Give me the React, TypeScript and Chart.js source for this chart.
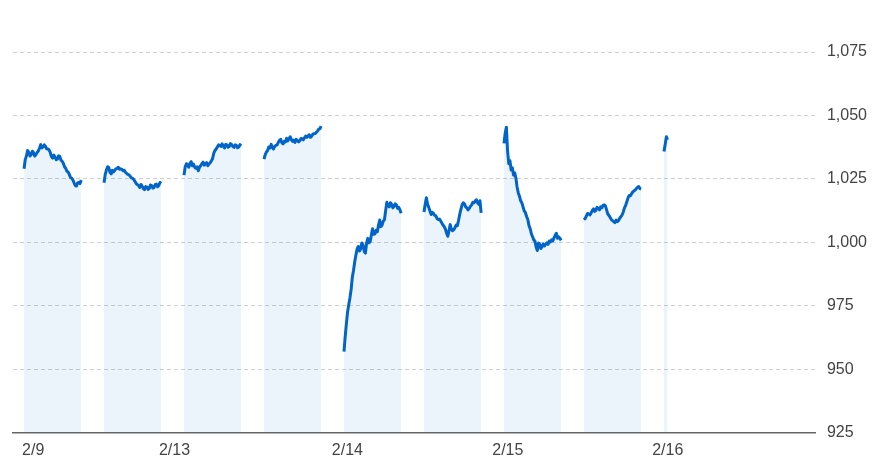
import { useEffect, useRef } from 'react';
import { Chart, registerables } from 'chart.js';

Chart.register(...registerables);

// Trading-time axis: each half-day session is 150 minutes, sessions spaced 210 units apart
const SESSION_MINUTES = 150;
const SESSION_SPACING = 210;
const POINTS_PER_SESSION = 49;

// Session values (2/9 AM, 2/9 PM, 2/13 AM, 2/13 PM, 2/14 AM, 2/14 PM, 2/15 AM, 2/15 PM, 2/16 AM)
const s1 = [1029, 1032.6, 1034, 1036.2, 1035.5, 1034, 1034.5, 1035.9, 1035.3, 1034, 1034.6, 1035.4, 1036, 1037.2, 1038.5, 1037.2, 1037.6, 1038.4, 1037.8, 1036.9, 1036.8, 1036.4, 1035.5, 1033.8, 1033.2, 1034.4, 1033.6, 1032.6, 1032.8, 1034.1, 1033.9, 1032.4, 1032, 1031.2, 1029.8, 1029.2, 1028, 1027.8, 1026.8, 1025.6, 1025.3, 1024.6, 1023.5, 1022.4, 1022.2, 1023.4, 1023.6, 1023.2, 1024.6];
const s2 = [1023.5, 1026.8, 1028.5, 1029.8, 1029.5, 1027.6, 1027, 1028.4, 1027.8, 1028.4, 1029, 1029.2, 1029.6, 1028.8, 1029, 1028.8, 1028.2, 1028.4, 1027.6, 1027.2, 1026.8, 1026.6, 1026, 1025.4, 1025.2, 1024.8, 1024, 1023.2, 1022.8, 1022.4, 1021.6, 1022.8, 1022.2, 1021.2, 1020.8, 1022, 1021.8, 1020.9, 1021.2, 1022.6, 1022.4, 1021.4, 1021.6, 1022.8, 1023, 1021.9, 1022.4, 1023.6, 1023.2];
const s3 = [1026.5, 1029.8, 1031, 1030.4, 1029.6, 1031.2, 1031.8, 1030.2, 1030.8, 1029.6, 1029.2, 1029.8, 1028.2, 1029.6, 1030.2, 1031, 1031.6, 1030.4, 1031, 1031.4, 1030.2, 1030.9, 1031.4, 1032.2, 1033, 1035.2, 1036.2, 1036.8, 1037.6, 1038.4, 1038.2, 1037.8, 1038.8, 1037.9, 1037.2, 1038.6, 1038.4, 1037.5, 1037.8, 1038.9, 1038.6, 1037.8, 1037.4, 1038.4, 1038.2, 1037.3, 1037.6, 1038.5, 1038];
const s4 = [1032.8, 1034.6, 1035.6, 1036.2, 1037.6, 1037.2, 1038.6, 1037.4, 1036.8, 1037.8, 1038.2, 1038.4, 1039.4, 1040.2, 1040.6, 1039.2, 1038.8, 1039.8, 1039.6, 1041, 1040, 1040.8, 1041.6, 1040.4, 1039.8, 1040.3, 1039.4, 1040.6, 1040.2, 1039.6, 1040, 1040.9, 1040.8, 1040.4, 1041.2, 1041.9, 1041.4, 1042, 1042.4, 1041.4, 1041.8, 1042.6, 1042.8, 1042.9, 1043.4, 1043.9, 1044.6, 1044.8, 1045.8];
const s5 = [957, 963, 968, 972.6, 975.5, 978.2, 981.5, 986.4, 989, 992.4, 995, 997.4, 998.4, 996.6, 997.5, 999.8, 999, 996.4, 995.8, 999.8, 1001.6, 999.8, 1000.4, 1003, 1005.4, 1003.2, 1003.4, 1004.8, 1004.2, 1006.8, 1008.8, 1006.2, 1006.8, 1008.4, 1009, 1012.6, 1015.8, 1014.6, 1014, 1015.6, 1015, 1013.6, 1014.2, 1015.2, 1014.8, 1013.4, 1013.8, 1012.8, 1011.5];
const s6 = [1012, 1015, 1017.6, 1015, 1013.8, 1012.4, 1011, 1011.8, 1011.4, 1010.6, 1010.4, 1009.4, 1009, 1009.2, 1008.4, 1007.6, 1006.8, 1006.2, 1005.2, 1003.6, 1002.4, 1004.6, 1007, 1005.2, 1004.6, 1005, 1005.8, 1006.8, 1006.6, 1008.6, 1011, 1013, 1014.8, 1015.6, 1015.2, 1014, 1013.6, 1012.8, 1013.4, 1014.2, 1014.8, 1015.8, 1015.6, 1016.2, 1016.8, 1015.6, 1015, 1016.4, 1011.6];
const s7 = [1039, 1043, 1045.4, 1036, 1031, 1032.2, 1028.5, 1029.4, 1026.5, 1027.4, 1025.3, 1021.8, 1019.5, 1018.2, 1016.4, 1015.6, 1014, 1012.4, 1011.7, 1010.2, 1009, 1006.6, 1005.4, 1003.4, 1002.2, 1001, 1000.5, 998.2, 996.8, 999.8, 999.3, 997.6, 998.3, 999.4, 998.6, 999.2, 999.8, 999.2, 1000.5, 1000.2, 1001, 1000.6, 1001.8, 1002.8, 1003.6, 1001.6, 1002.2, 1001.6, 1000.8];
const s8 = [1008.9, 1009.4, 1010.4, 1011.4, 1011.2, 1010.8, 1011.6, 1012.6, 1013.2, 1012.2, 1012.6, 1013.8, 1013.4, 1012.8, 1014, 1013.6, 1014.6, 1014.8, 1014.4, 1012.8, 1011.2, 1010.6, 1009.8, 1009, 1008.6, 1008.2, 1007.8, 1008.8, 1008.2, 1008.6, 1009.5, 1010.1, 1010.8, 1012, 1013.6, 1014.6, 1016, 1017.5, 1018.5, 1018.4, 1019.2, 1019.9, 1020.3, 1020.6, 1021.2, 1021.8, 1022, 1021.2, 1021];
const s9 = [1035.8, 1038.6, 1041.6, 1040.4];

const sessions = [s1, s2, s3, s4, s5, s6, s7, s8, s9];

const tickLabels = ['2/9', '2/13', '2/14', '2/15', '2/16'];
const tickValues = [24, 395, 849, 1270, 1690];

const yTicks = [925, 950, 975, 1000, 1025, 1050, 1075];

const LINE_COLOR = '#0064c8';
const FILL_COLOR = 'rgba(0, 102, 204, 0.08)';

export default function App() {
  const ref = useRef<HTMLCanvasElement>(null);

  useEffect(() => {
    if (!ref.current) return;
    Chart.defaults.font.family = 'Arial, "Liberation Sans", sans-serif';
    const step = SESSION_MINUTES / (POINTS_PER_SESSION - 1);
    const datasets = sessions.map((vals, s) => ({
      data: vals.map((v, i) => ({ x: s * SESSION_SPACING + i * step, y: v })),
      borderColor: LINE_COLOR,
      backgroundColor: FILL_COLOR,
      borderWidth: 3,
      fill: 'start' as const,
      pointRadius: 0,
      tension: 0,
      borderJoinStyle: 'round' as const,
    }));

    const chart = new Chart(ref.current, {
      type: 'line',
      data: { datasets },
      options: {
        animation: false,
        responsive: true,
        maintainAspectRatio: false,
        layout: { padding: { left: 13, right: 9, top: 52, bottom: 5 } },
        plugins: { legend: { display: false }, tooltip: { enabled: false } },
        scales: {
          x: {
            type: 'linear',
            min: -29,
            max: 2079,
            grid: { display: false, drawTicks: false },
            border: { display: true, color: '#666', width: 1.5 },
            afterBuildTicks: (axis: any) => {
              axis.ticks = tickValues.map((v) => ({ value: v }));
            },
            ticks: {
              autoSkip: false,
              maxRotation: 0,
              padding: 8,
              color: '#444',
              font: { size: 16 },
              callback: (_v: any, i: number) => tickLabels[i] ?? '',
            },
          },
          y: {
            position: 'right',
            min: 925,
            max: 1075,
            afterBuildTicks: (axis: any) => {
              axis.ticks = yTicks.map((v) => ({ value: v }));
            },
            grid: {
              drawTicks: false,
              color: (ctx: any) => (ctx.tick && ctx.tick.value === 925 ? 'rgba(0,0,0,0)' : '#d0d0d0'),
              lineWidth: 1,
            },
            border: { display: false, dash: [4, 3] },
            ticks: {
              padding: 11,
              color: '#444',
              font: { size: 16 },
              callback: (v: any) => Number(v).toLocaleString('en-US'),
            },
          },
        },
      },
    });
    return () => chart.destroy();
  }, []);

  return (
    <div style={{ position: 'absolute', left: 0, top: 0, width: 887, height: 473 }}>
      <canvas ref={ref} />
    </div>
  );
}
